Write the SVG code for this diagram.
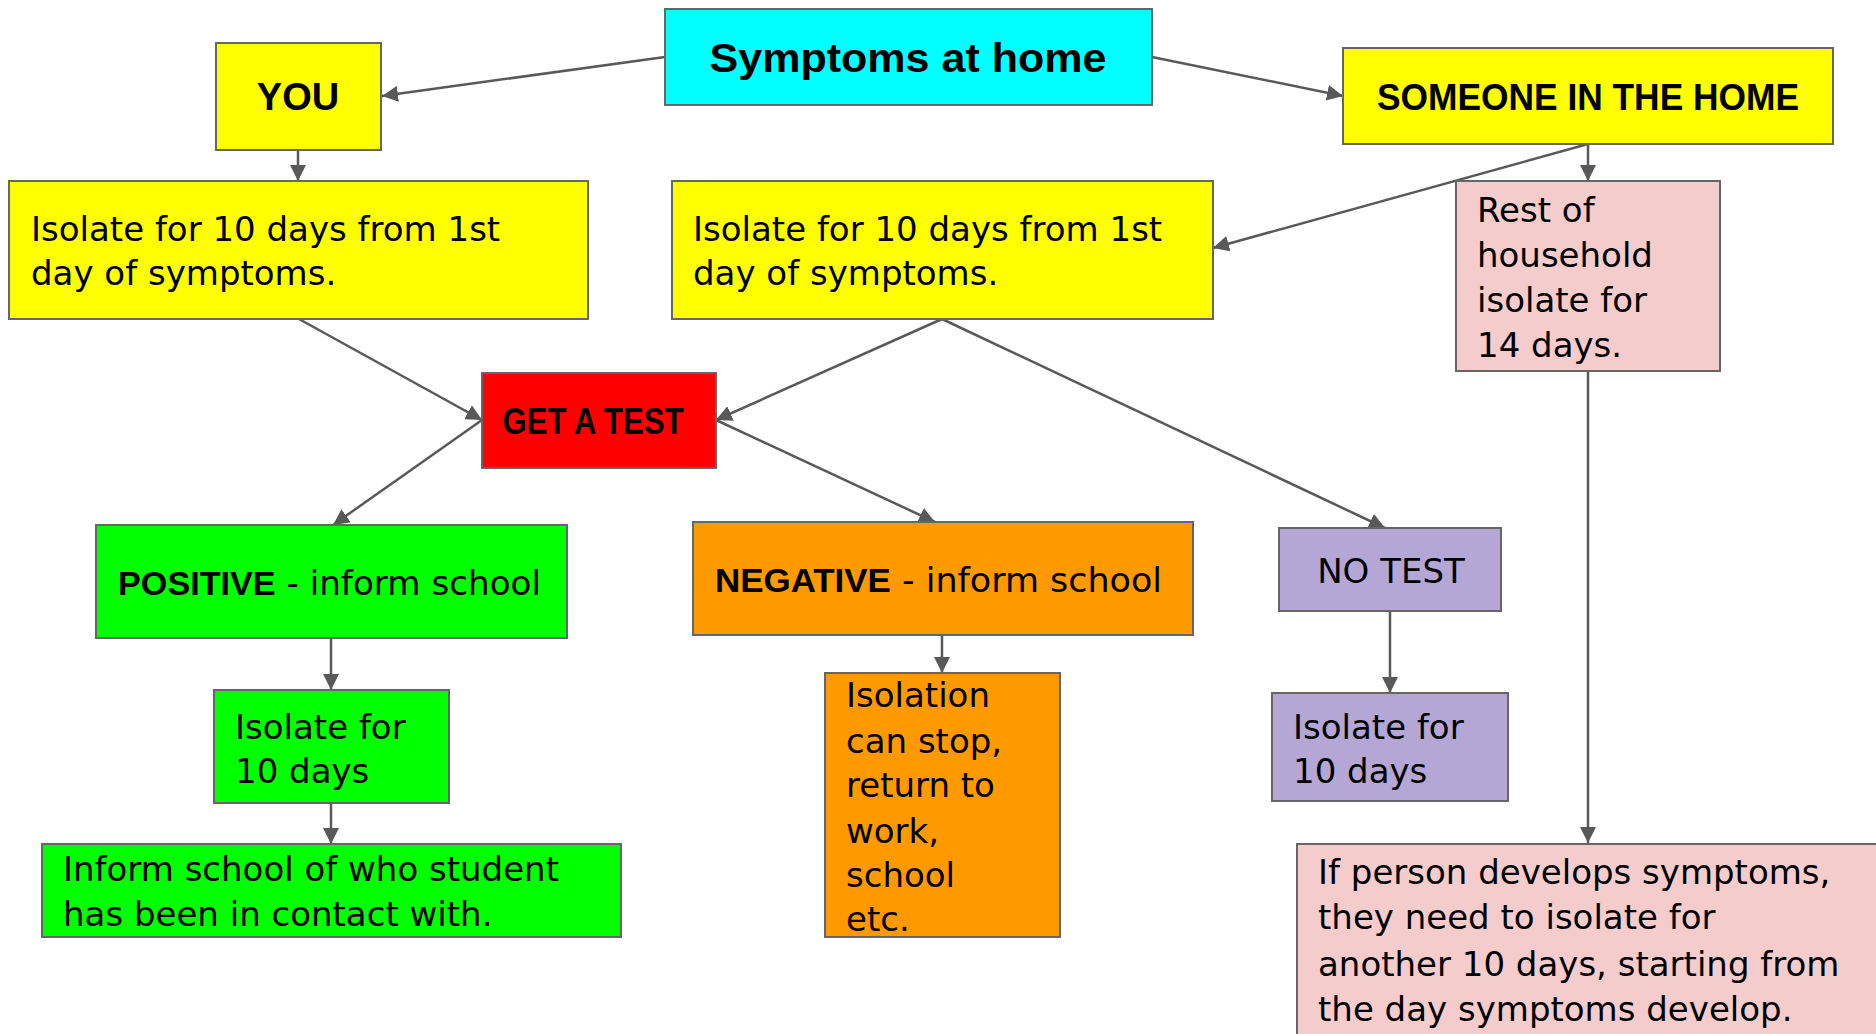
<svg xmlns="http://www.w3.org/2000/svg" width="1876" height="1034" viewBox="0 0 1876 1034">
<defs>
<marker id="ah" markerUnits="userSpaceOnUse" markerWidth="18" markerHeight="16" refX="16" refY="8" orient="auto">
<path d="M0,0 L16,8 L0,16 Z" fill="#595959"/>
</marker>
<style>
.box{stroke:#666666;stroke-width:2}
.t{font-family:"DejaVu Sans","Liberation Sans",sans-serif;font-size:34px;fill:#000}
.b{font-family:"Liberation Sans",Arial,sans-serif;font-weight:bold;fill:#000}
.c{stroke:#595959;stroke-width:2.5;fill:none;marker-end:url(#ah)}
</style>
</defs>
<rect width="1876" height="1034" fill="#ffffff"/>
<g id="connectors">
<line class="c" x1="665" y1="57" x2="382" y2="96"/>
<line class="c" x1="1152" y1="57" x2="1343" y2="96"/>
<line class="c" x1="298" y1="150" x2="298" y2="181"/>
<line class="c" x1="1588" y1="144" x2="1588" y2="181"/>
<line class="c" x1="1588" y1="144" x2="1213" y2="248"/>
<line class="c" x1="299" y1="319" x2="482" y2="420"/>
<line class="c" x1="942" y1="319" x2="716" y2="420"/>
<line class="c" x1="942" y1="319" x2="1385" y2="528"/>
<line class="c" x1="482" y1="420" x2="333" y2="525"/>
<line class="c" x1="716" y1="420" x2="935" y2="522"/>
<line class="c" x1="331" y1="638" x2="331" y2="690"/>
<line class="c" x1="942" y1="635" x2="942" y2="673"/>
<line class="c" x1="1390" y1="611" x2="1390" y2="693"/>
<line class="c" x1="331" y1="803" x2="331" y2="844"/>
<line class="c" x1="1588" y1="371" x2="1588" y2="843"/>
</g>
<g id="symptoms">
<rect class="box" x="665" y="9" width="487" height="96" fill="#00ffff"/>
<text class="b" x="908" y="72" font-size="40" text-anchor="middle" textLength="397" lengthAdjust="spacingAndGlyphs">Symptoms at home</text>
</g>
<g id="you">
<rect class="box" x="216" y="43" width="165" height="107" fill="#ffff00"/>
<text class="b" x="298" y="110" font-size="38" text-anchor="middle">YOU</text>
</g>
<g id="someone">
<rect class="box" x="1343" y="48" width="490" height="96" fill="#ffff00"/>
<text class="b" x="1588" y="110" font-size="37" text-anchor="middle" textLength="422" lengthAdjust="spacingAndGlyphs">SOMEONE IN THE HOME</text>
</g>
<g id="isolate-you">
<rect class="box" x="9" y="181" width="579" height="138" fill="#ffff00"/>
<text class="t" x="31" y="241">Isolate for 10 days from 1st</text>
<text class="t" x="31" y="285">day of symptoms.</text>
</g>
<g id="isolate-someone">
<rect class="box" x="672" y="181" width="541" height="138" fill="#ffff00"/>
<text class="t" x="693" y="241">Isolate for 10 days from 1st</text>
<text class="t" x="693" y="285">day of symptoms.</text>
</g>
<g id="rest-household">
<rect class="box" x="1456" y="181" width="264" height="190" fill="#f4cccc"/>
<text class="t" x="1477" y="222">Rest of</text>
<text class="t" x="1477" y="267">household</text>
<text class="t" x="1477" y="312">isolate for</text>
<text class="t" x="1477" y="357">14 days.</text>
</g>
<g id="get-test">
<rect class="box" x="482" y="373" width="234" height="95" fill="#ff0000"/>
<text class="b" x="593" y="434" font-size="36" text-anchor="middle" textLength="181" lengthAdjust="spacingAndGlyphs">GET A TEST</text>
</g>
<g id="positive">
<rect class="box" x="96" y="525" width="471" height="113" fill="#00ff00"/>
<text class="t" x="118" y="595" textLength="423" lengthAdjust="spacingAndGlyphs"><tspan class="b">POSITIVE</tspan> - inform school</text>
</g>
<g id="negative">
<rect class="box" x="693" y="522" width="500" height="113" fill="#ff9900"/>
<text class="t" x="715" y="592" textLength="447" lengthAdjust="spacingAndGlyphs"><tspan class="b">NEGATIVE</tspan> - inform school</text>
</g>
<g id="no-test">
<rect class="box" x="1279" y="528" width="222" height="83" fill="#b4a7d6"/>
<text class="t" x="1391" y="583" text-anchor="middle">NO TEST</text>
</g>
<g id="isolate-positive">
<rect class="box" x="214" y="690" width="235" height="113" fill="#00ff00"/>
<text class="t" x="235" y="739">Isolate for</text>
<text class="t" x="235" y="783">10 days</text>
</g>
<g id="inform-school">
<rect class="box" x="42" y="844" width="579" height="93" fill="#00ff00"/>
<text class="t" x="63" y="881">Inform school of who student</text>
<text class="t" x="63" y="926">has been in contact with.</text>
</g>
<g id="isolation-stop">
<rect class="box" x="825" y="673" width="235" height="264" fill="#ff9900"/>
<text class="t" x="846" y="707">Isolation</text>
<text class="t" x="846" y="753">can stop,</text>
<text class="t" x="846" y="797">return to</text>
<text class="t" x="846" y="843">work,</text>
<text class="t" x="846" y="887">school</text>
<text class="t" x="846" y="931">etc.</text>
</g>
<g id="isolate-notest">
<rect class="box" x="1272" y="693" width="236" height="108" fill="#b4a7d6"/>
<text class="t" x="1293" y="739">Isolate for</text>
<text class="t" x="1293" y="783">10 days</text>
</g>
<g id="if-person">
<rect class="box" x="1297" y="844" width="590" height="200" fill="#f4cccc"/>
<text class="t" x="1318" y="884">If person develops symptoms,</text>
<text class="t" x="1318" y="929">they need to isolate for</text>
<text class="t" x="1318" y="976">another 10 days, starting from</text>
<text class="t" x="1318" y="1021">the day symptoms develop.</text>
</g>
</svg>
